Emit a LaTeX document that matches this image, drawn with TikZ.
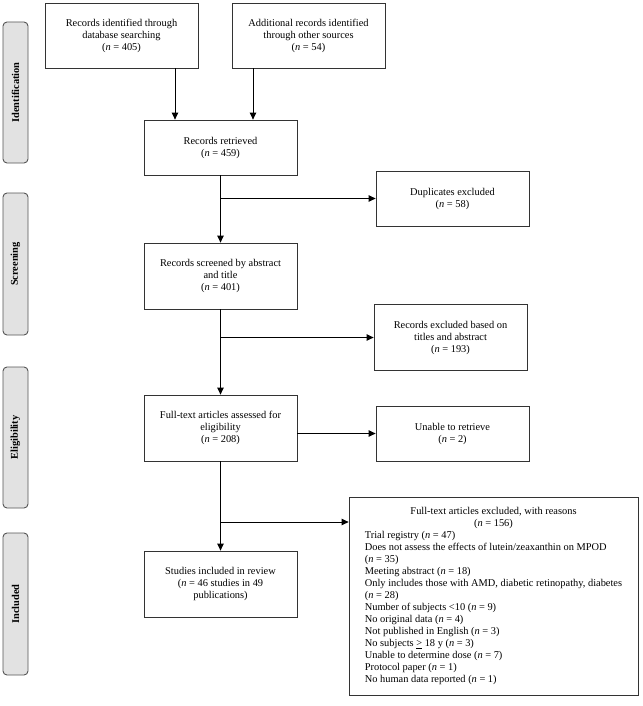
\documentclass[tikz,border=0pt]{standalone}
\usepackage{fontspec}
\setmainfont{Liberation Serif}
\usetikzlibrary{arrows.meta}
\definecolor{sidefill}{HTML}{E2E2E2}
\definecolor{sideline}{HTML}{555555}
\definecolor{boxline}{HTML}{333333}
\begin{document}
\begin{tikzpicture}[x=1pt,y=-1pt,
  every node/.style={font=\fontsize{10.4}{12}\selectfont},
  flowbox/.style={draw=boxline,line width=0.8pt,minimum width=153pt,inner sep=3pt,align=center},
  sidebox/.style={draw=sideline,fill=sidefill,line width=0.9pt,rounded corners=4pt,minimum height=25pt,inner sep=0pt,rotate=90,font=\fontsize{10.4}{12}\selectfont\bfseries},
  arr/.style={line width=0.9pt,-{Triangle[length=7pt,width=6.5pt]}},
  ln/.style={line width=0.9pt}]
\useasboundingbox (0,0) rectangle (642,706);

% side labels
\node[sidebox,minimum width=141pt] (sid) at (15.5,92.5) {Identification};
\node[sidebox,minimum width=142pt] (sscr) at (15.5,264) {Screening};
\node[sidebox,minimum width=141pt] (selig) at (15.5,437.5) {Eligibility};
\node[sidebox,minimum width=142pt] (sinc) at (15.5,604) {Included};

% boxes
\node[flowbox,minimum height=65pt] (id1) at (121.5,35.5) {Records identified through\\database searching\\(\textit{n} = 405)};
\node[flowbox,minimum height=65pt] (id2) at (308.5,35.5) {Additional records identified\\through other sources\\(\textit{n} = 54)};
\node[flowbox,minimum height=55pt] (ret) at (220.5,147.5) {Records retrieved\\(\textit{n} = 459)};
\node[flowbox,minimum height=55pt] (dup) at (452.5,198.5) {Duplicates excluded\\(\textit{n} = 58)};
\node[flowbox,minimum height=66pt] (scr) at (220.5,276) {Records screened by abstract\\and title\\(\textit{n} = 401)};
\node[flowbox,minimum height=66pt] (exc) at (450.5,337.5) {Records excluded based on\\titles and abstract\\(\textit{n} = 193)};
\node[flowbox,minimum height=66pt] (ft) at (220.5,428) {Full-text articles assessed for\\eligibility\\(\textit{n} = 208)};
\node[flowbox,minimum height=55pt] (una) at (452.5,433.5) {Unable to retrieve\\(\textit{n} = 2)};
\node[flowbox,minimum height=66pt] (inc) at (220.5,584) {Studies included in review\\(\textit{n} = 46 studies in 49\\publications)};
\node[draw=boxline,line width=0.8pt,minimum width=289pt,minimum height=198pt,inner sep=0pt] (big) at (493.5,596) {%
\begin{tabular}{@{}l@{}}
\multicolumn{1}{@{}c@{}}{Full-text articles excluded, with reasons}\\
\multicolumn{1}{@{}c@{}}{(\textit{n} = 156)}\\
Trial registry (\textit{n} = 47)\\
Does not assess the effects of lutein/zeaxanthin on MPOD\\
(\textit{n} = 35)\\
Meeting abstract (\textit{n} = 18)\\
Only includes those with AMD, diabetic retinopathy, diabetes\\
(\textit{n} = 28)\\
Number of subjects <10 (\textit{n} = 9)\\
No original data (\textit{n} = 4)\\
Not published in English (\textit{n} = 3)\\
No subjects \underline{>} 18 y (\textit{n} = 3)\\
Unable to determine dose (\textit{n} = 7)\\
Protocol paper (\textit{n} = 1)\\
No human data reported (\textit{n} = 1)
\end{tabular}};

% connector coordinates
\coordinate (a1) at (175,0);
\coordinate (a2) at (253,0);
\coordinate (b4) at (0,522);

\draw[arr] (id1.south -| a1) -- (ret.north -| a1);
\draw[arr] (id2.south -| a2) -- (ret.north -| a2);
\draw[arr] (ret.south) -- (scr.north);
\draw[arr] (ret.south |- dup.west) -- (dup.west);
\draw[arr] (scr.south) -- (ft.north);
\draw[arr] (scr.south |- exc.west) -- (exc.west);
\draw[arr] (ft.south) -- (inc.north);
\draw[arr] (ft.east |- una.west) -- (una.west);
\draw[arr] (ft.south |- b4) -- (b4 -| big.west);
\end{tikzpicture}
\end{document}
